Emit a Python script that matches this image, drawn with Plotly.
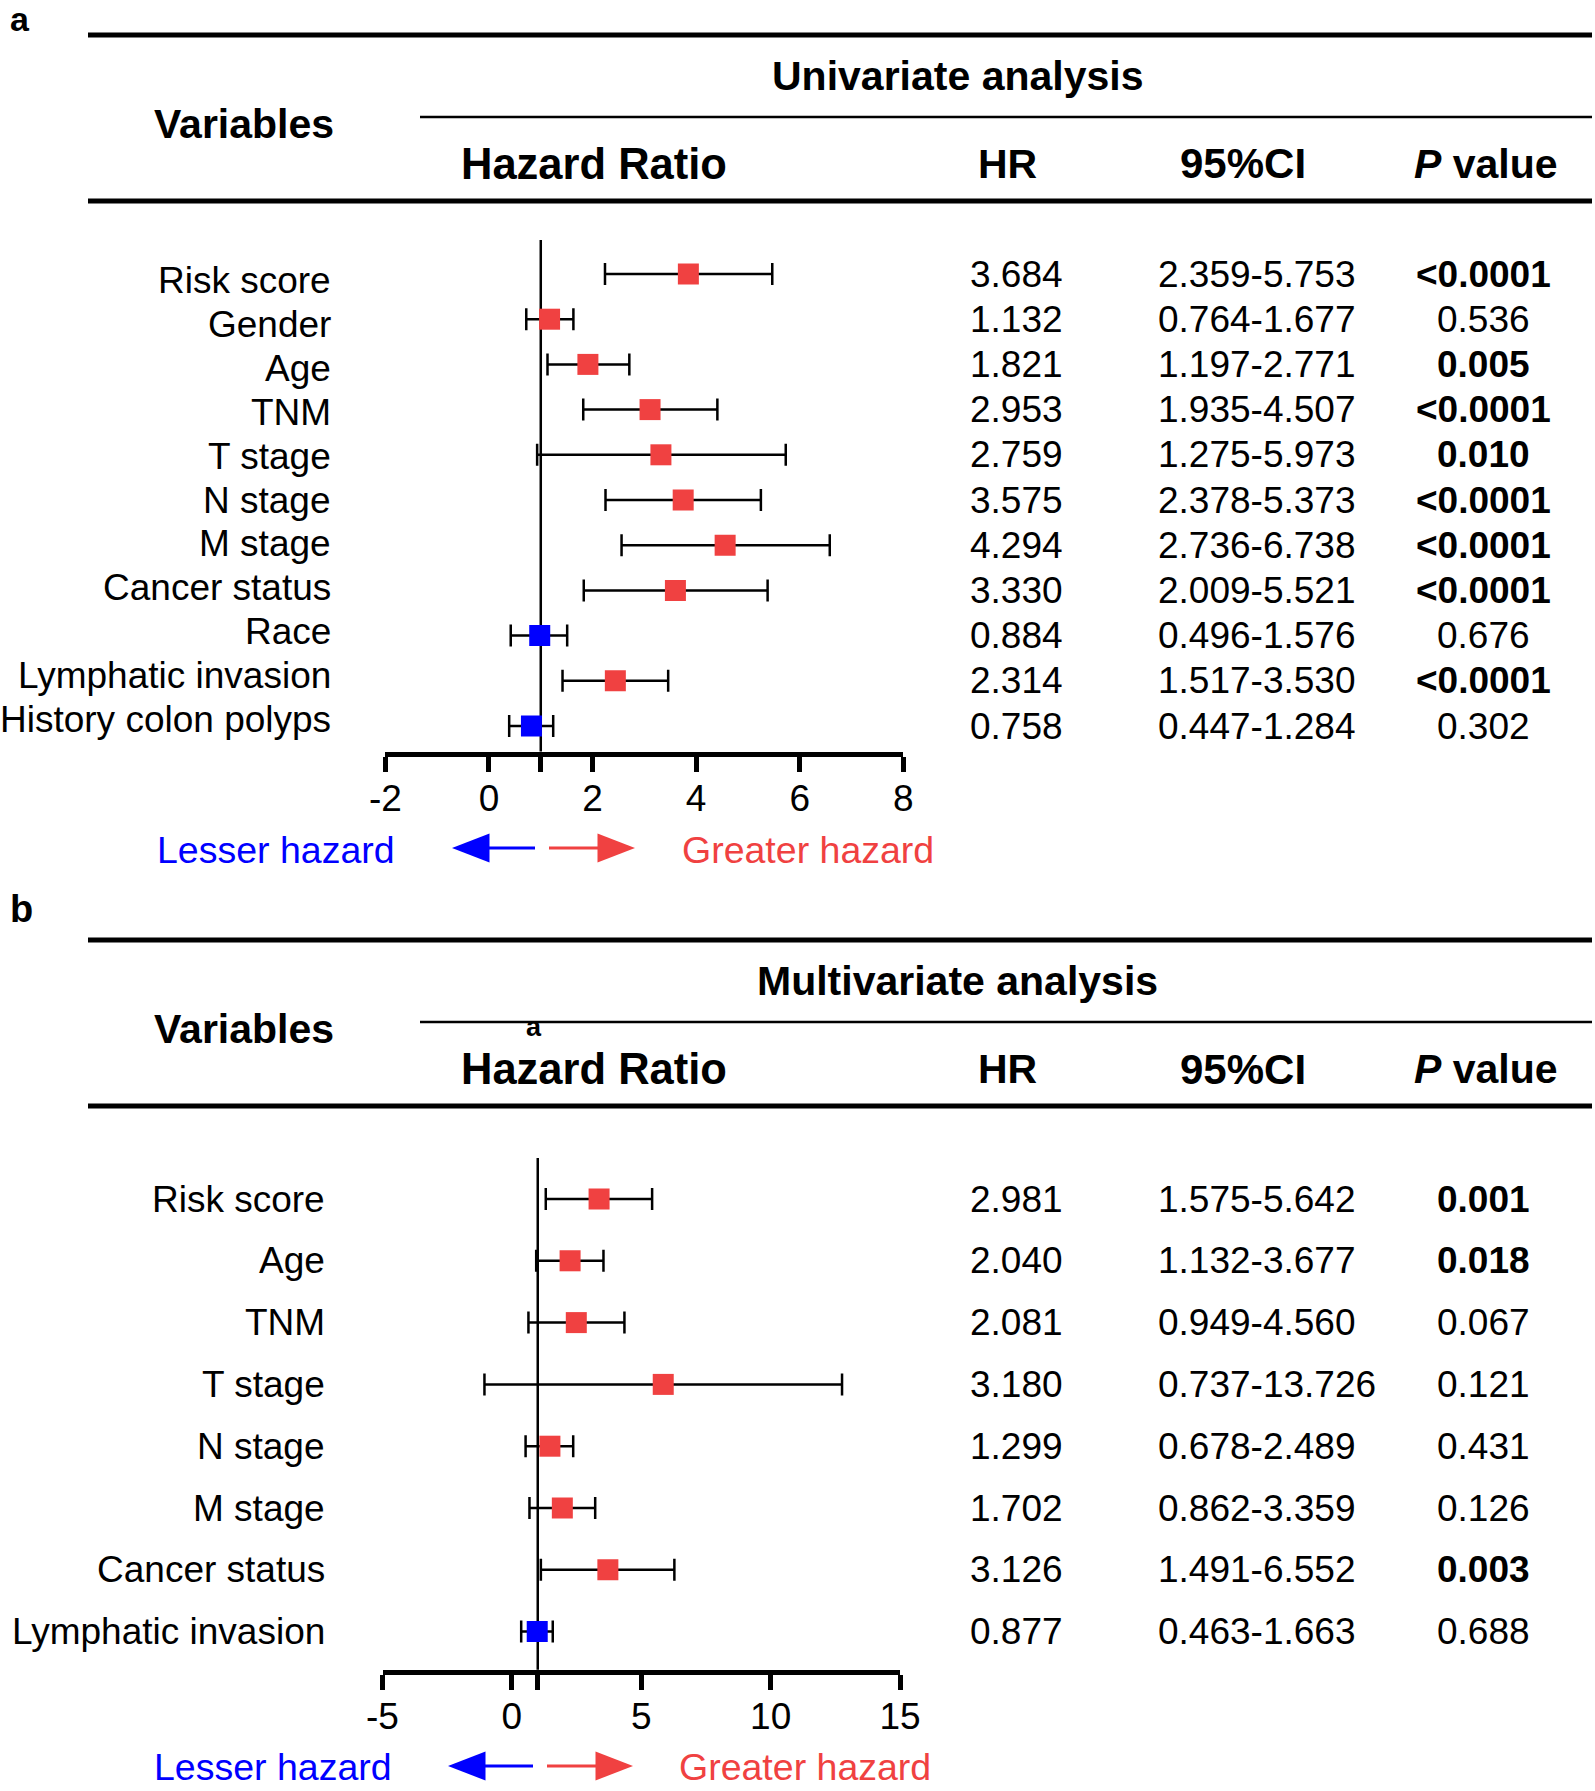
import plotly.graph_objects as go

W, H = 1595, 1791
FONT = "Liberation Sans, Arial, sans-serif"
RED = "#F04141"
BLUE = "#0000FF"

# ---------------- Panel a: univariate ----------------
labels_a = ["Risk score", "Gender", "Age", "TNM", "T stage", "N stage", "M stage",
            "Cancer status", "Race", "Lymphatic invasion", "History colon polyps"]
hr_a = ["3.684", "1.132", "1.821", "2.953", "2.759", "3.575", "4.294", "3.330", "0.884", "2.314", "0.758"]
ci_a = ["2.359-5.753", "0.764-1.677", "1.197-2.771", "1.935-4.507", "1.275-5.973", "2.378-5.373",
        "2.736-6.738", "2.009-5.521", "0.496-1.576", "1.517-3.530", "0.447-1.284"]
p_a = ["<0.0001", "0.536", "0.005", "<0.0001", "0.010", "<0.0001", "<0.0001", "<0.0001",
       "0.676", "<0.0001", "0.302"]
# positions of the plotted squares / whiskers as drawn in the picture
point_a = [3.85, 1.17, 1.91, 3.11, 3.32, 3.75, 4.56, 3.60, 0.98, 2.44, 0.82]
low_a = [2.24, 0.72, 1.13, 1.82, 0.93, 2.25, 2.56, 1.83, 0.42, 1.42, 0.39]
high_a = [5.47, 1.63, 2.71, 4.41, 5.73, 5.25, 6.58, 5.38, 1.51, 3.46, 1.24]
ticks_a = [-2, 0, 1, 2, 4, 6, 8]
ticktext_a = ["-2", "0", "", "2", "4", "6", "8"]

# ---------------- Panel b: multivariate ----------------
labels_b = ["Risk score", "Age", "TNM", "T stage", "N stage", "M stage",
            "Cancer status", "Lymphatic invasion"]
hr_b = ["2.981", "2.040", "2.081", "3.180", "1.299", "1.702", "3.126", "0.877"]
ci_b = ["1.575-5.642", "1.132-3.677", "0.949-4.560", "0.737-13.726", "0.678-2.489",
        "0.862-3.359", "1.491-6.552", "0.463-1.663"]
p_b = ["0.001", "0.018", "0.067", "0.121", "0.431", "0.126", "0.003", "0.688"]
point_b = [3.37, 2.25, 2.49, 5.85, 1.47, 1.95, 3.71, 0.98]
low_b = [1.31, 0.94, 0.64, -1.06, 0.53, 0.68, 1.12, 0.36]
high_b = [5.42, 3.54, 4.35, 12.76, 2.37, 3.22, 6.28, 1.58]
ticks_b = [-5, 0, 1, 5, 10, 15]
ticktext_b = ["-5", "0", "", "5", "10", "15"]


def px(x):
    return x / W


def py(y):
    return 1 - y / H


def is_sig(p):
    return p.startswith("<") or float(p) < 0.05


fig = go.Figure()
annotations = []
shapes = []


def add_text(text, x, y, size, color="black", xanchor="center", yanchor="middle",
             yref="paper"):
    """x always in pixels; y in pixels when yref is paper, else a data row."""
    annotations.append(dict(
        text=text, x=px(x), y=py(y) if yref == "paper" else y,
        xref="paper", yref=yref, showarrow=False,
        xanchor=xanchor, yanchor=yanchor,
        font=dict(family=FONT, size=size, color=color)))


def hline(x0, x1, y, w):
    shapes.append(dict(type="line", xref="paper", yref="paper",
                       x0=px(x0), x1=px(x1), y0=py(y), y1=py(y),
                       line=dict(color="black", width=w)))


def panel(off, letter, letter_y, letter_size, title, labels, hr, ci, p, point, low, high,
          xname, yname, label_right, label_step, arrows):
    # header
    add_text("<b>%s</b>" % letter, 8, letter_y, letter_size, xanchor="left")
    hline(88, 1592, 35 + off, 5)
    hline(420, 1592, 117 + off, 2.6)
    hline(88, 1592, 201 + off, 5)
    add_text("<b>%s</b>" % title, 957, 76 + off, 41)
    add_text("<b>Variables</b>", 244, 124 + off, 41)
    add_text("<b>Hazard Ratio</b>", 594, 164 + off, 43.5)
    add_text("<b>HR</b>", 1007, 164 + off, 41)
    add_text("<b>95%CI</b>", 1243, 164 + off, 42)
    add_text("<b><i>P</i> value</b>", 1486, 164 + off, 41)

    # forest plot marks
    colors = [BLUE if float(h) < 1 else RED for h in hr]
    rows = list(range(len(labels)))
    fig.add_trace(go.Scatter(
        x=point, y=rows, mode="markers", xaxis=xname, yaxis=yname,
        marker=dict(symbol="square", size=21, color=colors, line=dict(width=0)),
        error_x=dict(type="data", symmetric=False,
                     array=[h - m for h, m in zip(high, point)],
                     arrayminus=[m - l for m, l in zip(point, low)],
                     color="black", thickness=2.5, width=11),
        showlegend=False, hoverinfo="skip"))
    shapes.append(dict(type="line", xref=xname, yref=yname + " domain",
                       x0=1, x1=1, y0=0, y1=1, layer="below",
                       line=dict(color="black", width=2.5)))

    # row texts
    mid = (len(labels) - 1) / 2
    for i, lab in enumerate(labels):
        add_text(lab, label_right, mid + (i - mid) * label_step, 37,
                 xanchor="right", yref=yname)
        add_text(hr[i], 968, i, 37, xanchor="left", yref=yname)
        add_text(ci[i], 1156, i, 37, xanchor="left", yref=yname)
        txt = "<b>%s</b>" % p[i] if is_sig(p[i]) else p[i]
        add_text(txt, 1483, i, 37, yref=yname)

    # direction legend
    ya, yt, tip_b, tail_b, tail_r, tip_r, lx, gx = arrows
    add_text("Lesser hazard", lx, yt, 37.5, color=BLUE, xanchor="right")
    add_text("Greater hazard", gx, yt, 37.5, color=RED, xanchor="left")
    base_b = tip_b + 37.5
    base_r = tip_r - 37.5
    shapes.append(dict(type="line", xref="paper", yref="paper",
                       x0=px(base_b - 2), x1=px(tail_b), y0=py(ya), y1=py(ya),
                       line=dict(color=BLUE, width=3)))
    shapes.append(dict(type="path", xref="paper", yref="paper",
                       path="M %f %f L %f %f L %f %f Z" % (
                           px(tip_b), py(ya), px(base_b), py(ya - 14.5), px(base_b), py(ya + 14.5)),
                       fillcolor=BLUE, line=dict(width=0)))
    shapes.append(dict(type="line", xref="paper", yref="paper",
                       x0=px(tail_r), x1=px(base_r + 2), y0=py(ya), y1=py(ya),
                       line=dict(color=RED, width=3)))
    shapes.append(dict(type="path", xref="paper", yref="paper",
                       path="M %f %f L %f %f L %f %f Z" % (
                           px(tip_r), py(ya), px(base_r), py(ya - 14.5), px(base_r), py(ya + 14.5)),
                       fillcolor=RED, line=dict(width=0)))


panel(0, "a", 19, 34, "Univariate analysis", labels_a, hr_a, ci_a, p_a, point_a, low_a, high_a,
      "x", "y", 333, 0.973, (848, 850, 452, 535, 549, 635, 396.5, 680))
panel(905, "b", 909, 38, "Multivariate analysis", labels_b, hr_b, ci_b, p_b, point_b, low_b, high_b,
      "x2", "y2", 327, 1.0, (1766, 1767, 448, 533, 547, 633, 394, 677))

# stray label present in the reference
add_text("<b>a</b>", 534, 1027, 27)

axis_common = dict(showgrid=False, zeroline=False, showline=True, linecolor="black",
                   linewidth=5, ticks="outside", ticklen=15, tickwidth=5, tickcolor="black",
                   tickfont=dict(family=FONT, size=37, color="black"),
                   ticklabelstandoff=-5, fixedrange=True, automargin=False)

# pixel geometry of the two plot areas
a_top, a_bot, a_row0, a_step = 240, 751.5, 274, 45.2
b_top, b_bot, b_row0, b_step = 1158, 1669.8, 1199, 61.8

fig.update_layout(
    width=W, height=H, autosize=False,
    margin=dict(l=0, r=0, t=0, b=0, pad=0, autoexpand=False),
    paper_bgcolor="white", plot_bgcolor="rgba(0,0,0,0)",
    xaxis=dict(domain=[px(385.4), px(903.3)], range=[-2, 8], anchor="y",
               tickvals=ticks_a, ticktext=ticktext_a, **axis_common),
    yaxis=dict(domain=[py(a_bot), py(a_top)], anchor="x", visible=False,
               range=[(a_bot - a_row0) / a_step, (a_top - a_row0) / a_step]),
    xaxis2=dict(domain=[px(382.5), px(900)], range=[-5, 15], anchor="y2",
                tickvals=ticks_b, ticktext=ticktext_b, **axis_common),
    yaxis2=dict(domain=[py(b_bot), py(b_top)], anchor="x2", visible=False,
                range=[(b_bot - b_row0) / b_step, (b_top - b_row0) / b_step]),
    annotations=annotations,
    shapes=shapes,
)

fig.write_html("out.html",
               config={"displayModeBar": False, "staticPlot": True},
               post_script="document.body.style.margin='0';document.body.style.overflow='hidden';")
